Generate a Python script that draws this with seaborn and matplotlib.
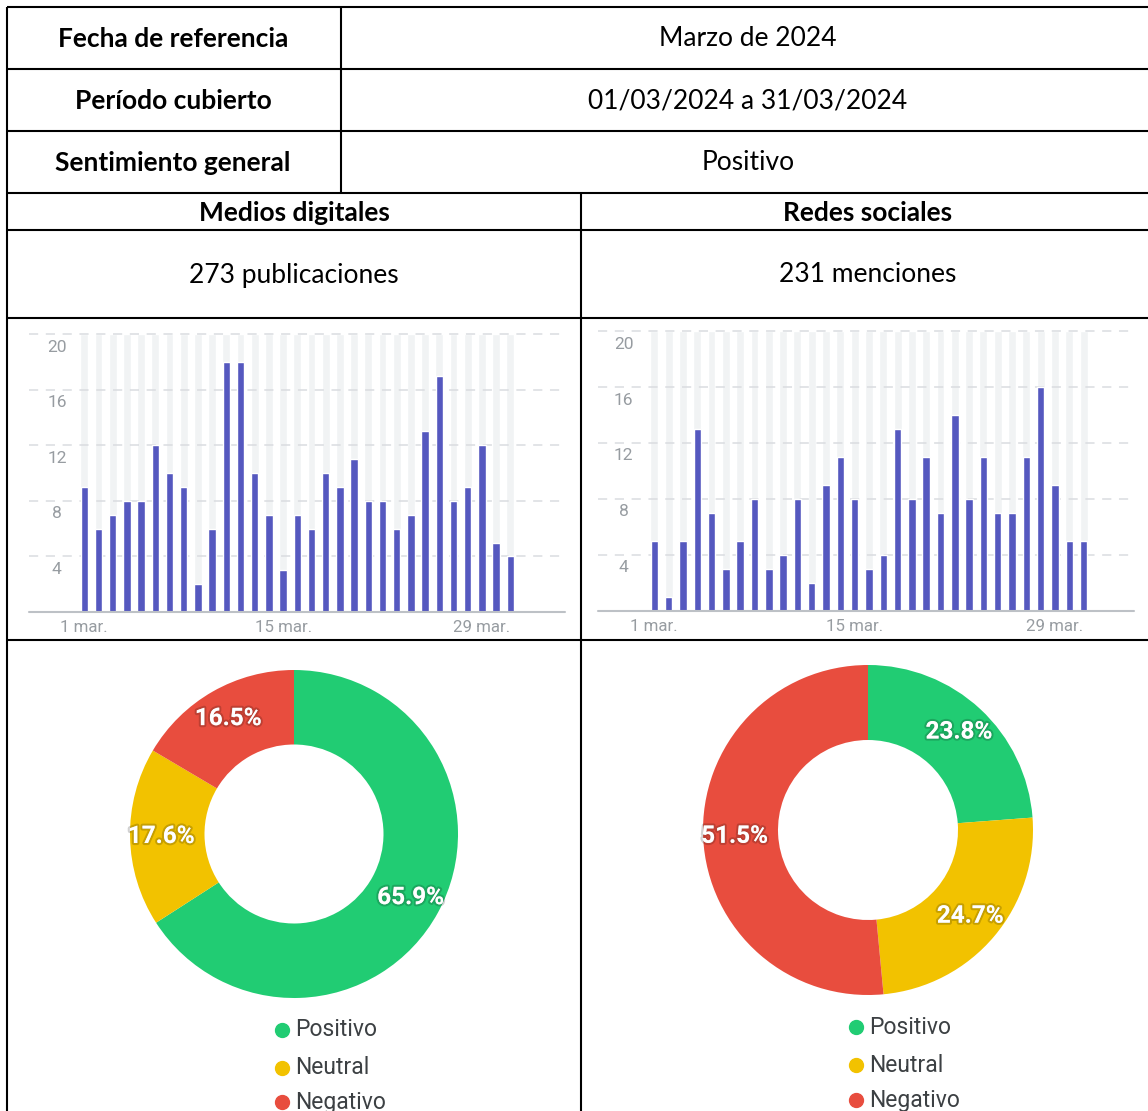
import matplotlib
matplotlib.use("Agg")
import matplotlib.pyplot as plt
import matplotlib.patheffects as pe
from matplotlib.lines import Line2D
import seaborn as sns

# ---------------- data ----------------
table_labels = ["Fecha de referencia", "Período cubierto", "Sentimiento general"]
table_values = ["Marzo de 2024", "01/03/2024 a 31/03/2024", "Positivo"]
section_titles = ["Medios digitales", "Redes sociales"]
section_totals = ["273 publicaciones", "231 menciones"]

days = list(range(1, 32))
medios_daily = [9, 6, 7, 8, 8, 12, 10, 9, 2, 6, 18, 18, 10, 7, 3, 7, 6, 10, 9, 11,
                8, 8, 6, 7, 13, 17, 8, 9, 12, 5, 4]
redes_daily = [5, 1, 5, 13, 7, 3, 5, 8, 3, 4, 8, 2, 9, 11, 8, 3, 4, 13, 8, 11,
               7, 14, 8, 11, 7, 7, 11, 16, 9, 5, 5]
y_ticks = [4, 8, 12, 16, 20]
x_tick_days = [1, 15, 29]
x_tick_labels = ["1 mar.", "15 mar.", "29 mar."]

sentiments = ["Positivo", "Neutral", "Negativo"]
medios_share = [65.9, 17.6, 16.5]
redes_share = [23.8, 24.7, 51.5]
sent_colors = ["#21cc73", "#f2c200", "#e84d3e"]

BAR_COLOR = "#5558bf"
BG_COL = "#f1f3f4"
GRID = "#dadce0"
TICK_TXT = "#979ca1"
LEG_TXT = "#3c4043"

# ---------------- figure ----------------
sns.set_theme(style="white")
plt.rcParams["font.family"] = ["Lato", "DejaVu Sans"]

W, H = 1148, 1111
fig = plt.figure(figsize=(W / 100, H / 100), dpi=100)
fig.patch.set_facecolor("white")


def fx(x):
    return x / W


def fy(y):
    return 1 - y / H


def ax_px(x0, y0, x1, y1):
    return fig.add_axes([x0 / W, 1 - y1 / H, (x1 - x0) / W, (y1 - y0) / H])


def hline(y, x0, x1, lw=1.5):
    fig.add_artist(Line2D([fx(x0), fx(x1)], [fy(y), fy(y)], transform=fig.transFigure,
                          color="black", lw=lw, solid_capstyle="butt"))


def vline(x, y0, y1, lw=1.5):
    fig.add_artist(Line2D([fx(x), fx(x)], [fy(y0), fy(y1)], transform=fig.transFigure,
                          color="black", lw=lw, solid_capstyle="butt"))


# table grid
for y in [7, 69, 131, 193, 230, 318, 640]:
    hline(y, 7, W)
vline(7, 7, H)
vline(341, 7, 193)
vline(581, 193, H)

# table text
TFS = 19
row_y = [39, 101, 163]
for lab, val, y in zip(table_labels, table_values, row_y):
    fig.text(fx(173), fy(y), lab, ha="center", va="center", fontsize=TFS,
             fontweight="bold", color="black")
    fig.text(fx(748), fy(y), val, ha="center", va="center", fontsize=TFS, color="black")

col_x = [294, 868]
for title, total, x in zip(section_titles, section_totals, col_x):
    fig.text(fx(x), fy(213), title, ha="center", va="center", fontsize=TFS,
             fontweight="bold", color="black")
    fig.text(fx(x), fy(275), total, ha="center", va="center", fontsize=TFS, color="black")


# ---------------- bar charts ----------------
def bar_chart(box, values, bar0_px, spacing, label_frac):
    x0, y0, x1, y1 = box
    ax = ax_px(x0, y0, x1, y1)
    ax.set_facecolor("none")
    top_val = max(y_ticks)
    sns.barplot(x=days, y=[top_val] * len(days), ax=ax, color=BG_COL, width=0.55,
                saturation=1, zorder=0)
    sns.barplot(x=days, y=values, ax=ax, color=BAR_COLOR, width=0.52,
                saturation=1, zorder=3)
    left = -(bar0_px - x0) / spacing
    ax.set_xlim(left, left + (x1 - x0) / spacing)
    px_per_unit = (y1 - y0 - 4) / 20.0
    ax.set_ylim(0, (y1 - y0) / px_per_unit)
    for t in y_ticks:
        ax.axhline(t, color=GRID, lw=1.1, ls=(0, (6, 5)), zorder=1, clip_on=False)
        ax.annotate(str(t), xy=(label_frac, t), xycoords=("axes fraction", "data"),
                    xytext=(0, -13), textcoords="offset pixels", ha="center",
                    va="center", fontsize=12.5, color=TICK_TXT, family="Roboto")
    ax.axhline(0, color="#bdc1c6", lw=1.5, zorder=4, clip_on=False)
    ax.set_yticks([])
    ax.set_xticks([d - 1 for d in x_tick_days])
    ax.set_xticklabels(x_tick_labels, fontsize=12.2, color=TICK_TXT, family="Roboto")
    ax.tick_params(axis="x", length=0, pad=6)
    ax.set_xlabel("")
    ax.set_ylabel("")
    for s in ax.spines.values():
        s.set_visible(False)
    return ax


bar_chart((29, 330, 565, 612), medios_daily, 84.3, 14.2, 0.052)
bar_chart((598, 327, 1134, 611), redes_daily, 654.3, 14.31, 0.0476)


# ---------------- donuts ----------------
def donut(cx, cy, r, shares, inner):
    ax = ax_px(cx - r, cy - r, cx + r, cy + r)
    wedges, texts, autotexts = ax.pie(
        shares, colors=sent_colors, startangle=90, counterclock=False,
        wedgeprops=dict(width=1 - inner / r, edgecolor="none"),
        autopct="%1.1f%%", pctdistance=0.81, radius=1)
    for t in autotexts:
        t.set_color("white")
        t.set_fontsize(17.5)
        t.set_fontweight("bold")
        t.set_family("Roboto")
        t.set_path_effects([pe.withStroke(linewidth=3, foreground=(0, 0, 0, 0.18))])
    ax.set_xlim(-1, 1)
    ax.set_ylim(-1, 1)
    ax.set_aspect("equal")
    ax.axis("off")
    return ax


donut(294, 834, 164, medios_share, 89.5)
donut(868, 830, 165, redes_share, 90)


# ---------------- legends ----------------
def legend(mx, tx, ys):
    for name, col, y in zip(sentiments, sent_colors, ys):
        fig.add_artist(Line2D([fx(mx)], [fy(y)], transform=fig.transFigure, marker="o",
                              markersize=10, color=col, lw=0))
        fig.text(fx(tx), fy(y), name, ha="left", va="center", fontsize=16.5,
                 color=LEG_TXT, family="Roboto")


legend(282, 295, [1030, 1068, 1102])
legend(856.5, 869, [1027, 1065, 1100])

fig.savefig("out.png", dpi=100, facecolor="white")
